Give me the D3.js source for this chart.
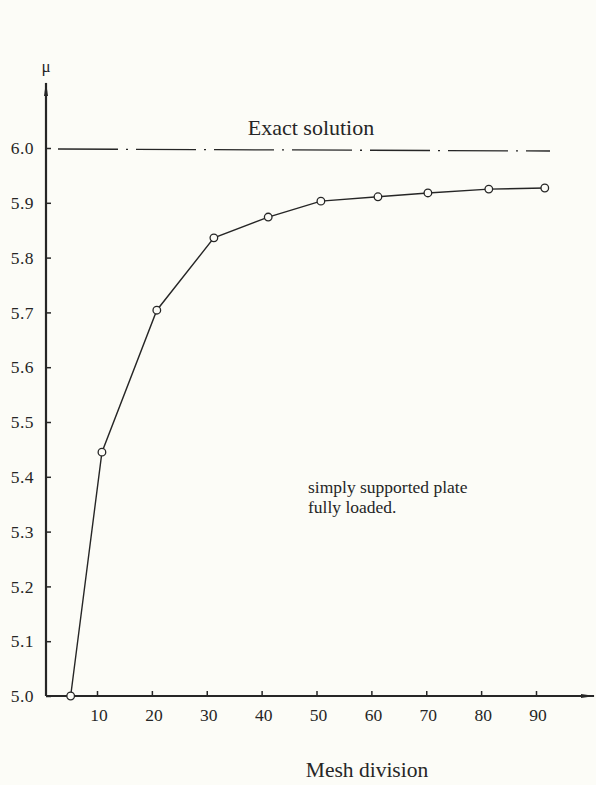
<!DOCTYPE html>
<html><head><meta charset="utf-8">
<script src="https://cdn.jsdelivr.net/npm/d3@7"></script>
<style>html,body{margin:0;padding:0;background:#fcfcf7;}svg{display:block;}</style>
</head><body>
<script>
const meshDivision = [5.2, 10.9, 20.9, 31.3, 41.2, 50.8, 61.2, 70.3, 81.4, 91.6];
const muValues     = [5.0, 5.445, 5.704, 5.836, 5.874, 5.903, 5.911, 5.918, 5.925, 5.927];
const exactSolution = 6.0;
const xTicks = [10, 20, 30, 40, 50, 60, 70, 80, 90];
const yTicks = [5.0, 5.1, 5.2, 5.3, 5.4, 5.5, 5.6, 5.7, 5.8, 5.9, 6.0];
const labels = {y: "μ", x: "Mesh division", exact: "Exact solution", note: ["simply supported plate", "fully loaded."]};

const W = 596, H = 785;
const ink = "#262626";
const svg = d3.select("body").append("svg").attr("width", W).attr("height", H);
svg.append("rect").attr("width", W).attr("height", H).attr("fill", "#fcfcf7");

const x = d3.scaleLinear().domain([10, 90]).range([97, 536]);
const y = d3.scaleLinear().domain([5.0, 6.0]).range([696, 148]);
const x0 = 46, y0 = 696;

const defs = svg.append("defs");
defs.append("marker").attr("id", "arr").attr("viewBox", "0 0 14 6").attr("refX", 13).attr("refY", 3)
  .attr("markerWidth", 14).attr("markerHeight", 6).attr("markerUnits", "userSpaceOnUse").attr("orient", "auto")
  .append("path").attr("d", "M0,1 L14,3 L0,5 Z").attr("fill", ink);

const font = "'Liberation Serif', 'DejaVu Serif', serif";

// axes lines
svg.append("line").attr("x1", x0).attr("y1", y0).attr("x2", x0).attr("y2", 83)
  .attr("stroke", ink).attr("stroke-width", 2.2).attr("marker-end", "url(#arr)");
svg.append("line").attr("x1", x0).attr("y1", y0).attr("x2", 594).attr("y2", y0)
  .attr("stroke", ink).attr("stroke-width", 2.2).attr("marker-end", "url(#arr)");

// y axis ticks & labels
const yAxis = d3.axisRight(y).tickValues(yTicks).tickSize(5).tickFormat("");
const gy = svg.append("g").attr("transform", `translate(${x0},0)`).call(yAxis);
gy.select(".domain").remove();
gy.selectAll(".tick line").attr("stroke", ink).attr("stroke-width", 1.5);
svg.append("g").selectAll("text").data(yTicks).join("text")
  .attr("x", 34).attr("y", d => y(d)).attr("dy", "0.35em")
  .attr("text-anchor", "end").attr("font-family", font).attr("font-size", 17.5)
  .attr("letter-spacing", 0.5)
  .attr("fill", ink).text(d => d3.format(".1f")(d));

// x axis ticks & labels
const xAxis = d3.axisTop(x).tickValues(xTicks).tickSize(5).tickFormat("");
const gx = svg.append("g").attr("transform", `translate(0,${y0})`).call(xAxis);
gx.select(".domain").remove();
gx.selectAll(".tick line").attr("stroke", ink).attr("stroke-width", 1.5);
svg.append("g").selectAll("text").data(xTicks).join("text")
  .attr("x", d => x(d) + 2).attr("y", 721)
  .attr("text-anchor", "middle").attr("font-family", font).attr("font-size", 17.5)
  .attr("fill", ink).text(d => d);

// axis titles
svg.append("text").attr("x", 46).attr("y", 72).attr("text-anchor", "middle")
  .attr("font-family", font).attr("font-size", 17).attr("fill", ink).text(labels.y);
svg.append("text").attr("x", 367).attr("y", 777).attr("text-anchor", "middle")
  .attr("font-family", font).attr("font-size", 21.5).attr("fill", ink).text(labels.x);

// exact solution line
svg.append("line").attr("x1", 58).attr("x2", 550).attr("y1", y(exactSolution) + 1).attr("y2", y(exactSolution) + 3)
  .attr("stroke", ink).attr("stroke-width", 1.3).attr("stroke-dasharray", "60,8,2,8");
svg.append("text").attr("x", 311).attr("y", 135).attr("text-anchor", "middle")
  .attr("font-family", font).attr("font-size", 22).attr("fill", ink).text(labels.exact);

// note
svg.append("g").selectAll("text").data(labels.note).join("text")
  .attr("x", 308).attr("y", (d, i) => 493 + i * 20)
  .attr("font-family", font).attr("font-size", 17.5).attr("fill", ink).text(d => d);

// data line
const pts = meshDivision.map((m, i) => [m, muValues[i]]);
svg.append("path").datum(pts)
  .attr("d", d3.line().x(d => x(d[0])).y(d => y(d[1])))
  .attr("fill", "none").attr("stroke", ink).attr("stroke-width", 1.4);
svg.append("g").selectAll("circle").data(pts).join("circle")
  .attr("cx", d => x(d[0])).attr("cy", d => y(d[1])).attr("r", 3.8)
  .attr("fill", "#fcfcf7").attr("stroke", ink).attr("stroke-width", 1.3);
</script>
</body></html>
